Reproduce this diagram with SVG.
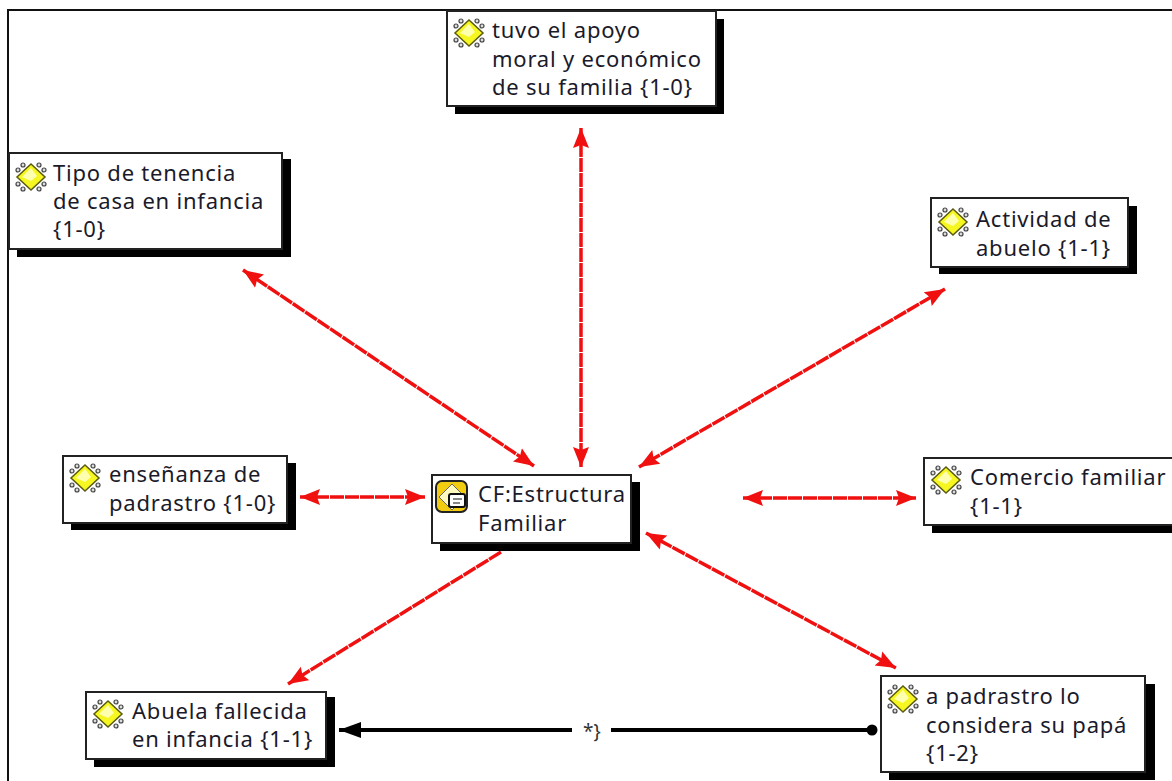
<svg xmlns="http://www.w3.org/2000/svg" width="1172" height="781" viewBox="0 0 1172 781">
<style>
text{font-family:"Noto Sans","DejaVu Sans",sans-serif;font-size:22px;letter-spacing:.78px;fill:#1a1a2a}
.b{fill:#fff;stroke:#222;stroke-width:2}
.s{fill:#000}
.r{stroke:#f01010;stroke-width:3.5;stroke-dasharray:14 1;fill:none;marker-start:url(#ah);marker-end:url(#ah)}
.ro{stroke:#f01010;stroke-width:3.5;stroke-dasharray:14 1;fill:none;marker-end:url(#ah)}
</style>
<defs>
<marker id="ah" markerUnits="userSpaceOnUse" markerWidth="22" markerHeight="18" refX="20" refY="9" orient="auto-start-reverse"><path d="M0 1L20 9L0 17L3 9Z" fill="#f01010"/></marker>
<marker id="ak" markerUnits="userSpaceOnUse" markerWidth="24" markerHeight="18" refX="22" refY="8" orient="auto"><path d="M0 0L22 8L0 16Z" fill="#000"/></marker>
<g id="ic">
<g fill="#ddd" stroke="#444" stroke-width="1.2"><circle cx="-13" cy="-7" r="2"/><circle cx="-8" cy="-12" r="2"/><circle cx="13" cy="-7" r="2"/><circle cx="8" cy="-12" r="2"/><circle cx="-13" cy="7" r="2"/><circle cx="-8" cy="12" r="2"/><circle cx="13" cy="7" r="2"/><circle cx="8" cy="12" r="2"/></g>
<path d="M0-13L14 0L0 13L-14 0Z" fill="#f6f620" stroke="#5a5a10" stroke-width="1.5"/><path d="M0-9L-9 0L0 4L6-1Z" fill="#ffffb0"/>
</g>
</defs>
<rect width="1172" height="781" fill="#fff"/>
<path d="M8 781V10H1172" fill="none" stroke="#111" stroke-width="2"/>
<g id="connectors">
<path class="r" d="M581 128V467"/>
<path class="r" d="M243 270L534 466"/>
<path class="r" d="M945 289L639 467"/>
<path class="r" d="M300 497H425"/>
<path class="r" d="M743 498H916"/>
<path class="r" d="M646 533L896 668"/>
<path class="ro" d="M501 552L288 684"/>
<path d="M572 730H339" stroke="#000" stroke-width="4" fill="none" marker-end="url(#ak)"/>
<path d="M611 730H872" stroke="#000" stroke-width="4" fill="none"/>
<circle cx="872" cy="730" r="5.5" fill="#000"/>
<text x="583" y="738" style="font-size:19px;letter-spacing:0;fill:#333">*}</text>
</g>
<g id="n1"><rect class="s" x="455" y="19" width="269" height="95"/><rect class="b" x="447" y="11" width="269" height="95"/><use href="#ic" x="469" y="33"/><text x="492" y="38">tuvo el apoyo</text><text x="492" y="67">moral y económico</text><text x="492" y="95">de su familia {1-0}</text></g>
<g id="n2"><rect class="s" x="17" y="159" width="274" height="98"/><rect class="b" x="9" y="153" width="273" height="96"/><use href="#ic" x="31" y="177"/><text x="53" y="181">Tipo de tenencia</text><text x="53" y="209">de casa en infancia</text><text x="53" y="237">{1-0}</text></g>
<g id="n3"><rect class="s" x="939" y="206" width="198" height="68"/><rect class="b" x="931" y="198" width="197" height="69"/><use href="#ic" x="953" y="222"/><text x="976" y="227">Actividad de</text><text x="976" y="256">abuelo {1-1}</text></g>
<g id="n4"><rect class="s" x="71" y="463" width="225" height="67"/><rect class="b" x="63" y="456" width="224" height="67"/><use href="#ic" x="85" y="478"/><text x="109" y="482">enseñanza de</text><text x="109" y="511">padrastro {1-0}</text></g>
<g id="n5"><rect class="s" x="440" y="482" width="200" height="69"/><rect class="b" x="432" y="475" width="199" height="68"/>
<rect x="436" y="481" width="31" height="31" rx="6" fill="#f2cc10" stroke="#222" stroke-width="2"/><path d="M452 484L465 497L452 510L439 497Z" fill="#fffbc0" stroke="#666"/><rect x="449" y="494" width="16" height="13" rx="2" fill="#fff" stroke="#111" stroke-width="2"/><path d="M453 499H462M453 503H460" stroke="#111"/>
<text x="478" y="502">CF:Estructura</text><text x="478" y="531">Familiar</text></g>
<g id="n6"><rect class="s" x="932" y="466" width="240" height="67"/><rect class="b" x="924" y="458" width="249" height="67"/><use href="#ic" x="946" y="480"/><text x="970" y="485">Comercio familiar</text><text x="970" y="514">{1-1}</text></g>
<g id="n7"><rect class="s" x="94" y="697" width="241" height="70"/><rect class="b" x="86" y="692" width="240" height="67"/><use href="#ic" x="108" y="714"/><text x="132" y="719">Abuela fallecida</text><text x="132" y="747">en infancia {1-1}</text></g>
<g id="n8"><rect class="s" x="889" y="684" width="266" height="96"/><rect class="b" x="881" y="676" width="264" height="96"/><use href="#ic" x="903" y="699"/><text x="926" y="704">a padrastro lo</text><text x="926" y="733">considera su papá</text><text x="926" y="761">{1-2}</text></g>
</svg>
